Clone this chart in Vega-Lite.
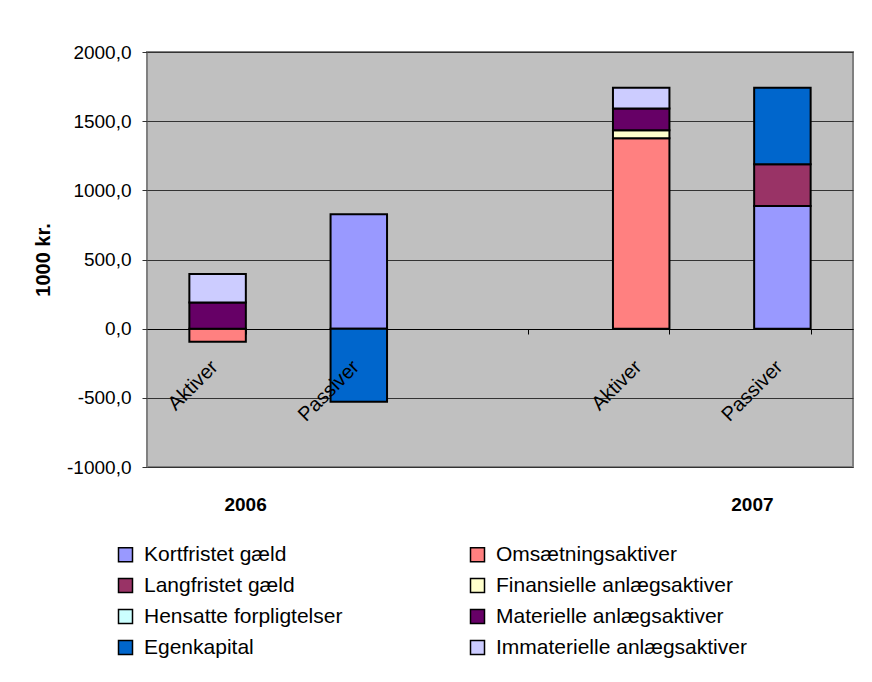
{
  "$schema": "https://vega.github.io/schema/vega-lite/v6.json",
  "width": 706,
  "height": 415,
  "autosize": {"type": "none"},
  "padding": {"left": 147, "top": 52, "right": 19, "bottom": 215},
  "background": "white",
  "config": {
    "locale": {"number": {"decimal": ",", "thousands": ".", "grouping": [3], "currency": ["", " kr."], "minus": "-"}},
    "font": "Liberation Sans",
    "view": {"fill": "#C0C0C0", "stroke": "#808080", "strokeWidth": 2}
  },
  "datasets": {
    "poster": [
      {"kategori": "2006 Aktiver", "post": "Omsætningsaktiver", "beløb": -95},
      {"kategori": "2006 Aktiver", "post": "Materielle anlægsaktiver", "beløb": 190},
      {"kategori": "2006 Aktiver", "post": "Immaterielle anlægsaktiver", "beløb": 205},
      {"kategori": "2006 Passiver", "post": "Kortfristet gæld", "beløb": 828},
      {"kategori": "2006 Passiver", "post": "Egenkapital", "beløb": -529},
      {"kategori": "2007 Aktiver", "post": "Omsætningsaktiver", "beløb": 1377},
      {"kategori": "2007 Aktiver", "post": "Finansielle anlægsaktiver", "beløb": 58},
      {"kategori": "2007 Aktiver", "post": "Materielle anlægsaktiver", "beløb": 157},
      {"kategori": "2007 Aktiver", "post": "Immaterielle anlægsaktiver", "beløb": 149},
      {"kategori": "2007 Passiver", "post": "Kortfristet gæld", "beløb": 886},
      {"kategori": "2007 Passiver", "post": "Langfristet gæld", "beløb": 303},
      {"kategori": "2007 Passiver", "post": "Egenkapital", "beløb": 552}
    ],
    "etiketter": [
      {"kategori": "2006 Aktiver", "tekst": "Aktiver"},
      {"kategori": "2006 Passiver", "tekst": "Passiver"},
      {"kategori": "2007 Aktiver", "tekst": "Aktiver"},
      {"kategori": "2007 Passiver", "tekst": "Passiver"}
    ],
    "aar": [
      {"kategori": "2006 Aktiver", "år": "2006"},
      {"kategori": "2007 Passiver", "år": "2007"}
    ]
  },
  "layer": [
    {
      "data": {"name": "poster"},
      "transform": [
        {"calculate": "indexof(['Kortfristet gæld', 'Langfristet gæld', 'Hensatte forpligtelser', 'Egenkapital', 'Omsætningsaktiver', 'Finansielle anlægsaktiver', 'Materielle anlægsaktiver', 'Immaterielle anlægsaktiver'], datum.post)", "as": "rækkefølge"}
      ],
      "mark": {"type": "bar", "stroke": "black", "strokeWidth": 2},
      "encoding": {
        "x": {
          "field": "kategori", "type": "nominal",
          "scale": {"domain": ["2006 Aktiver", "2006 Passiver", " ", "2007 Aktiver", "2007 Passiver"], "paddingInner": 0.6, "paddingOuter": 0.3},
          "axis": {"title": null, "labels": false, "offset": -138, "domainColor": "black", "domainWidth": 1, "tickColor": "black", "tickSize": 5, "tickBand": "extent", "grid": false}
        },
        "y": {
          "field": "beløb", "type": "quantitative", "stack": "zero",
          "scale": {"domain": [-1000, 2000], "nice": false},
          "axis": {"title": "1000 kr.", "values": [-1000, -500, 0, 500, 1000, 1500, 2000], "format": ".1f",
                   "labelFontSize": 19, "labelColor": "black", "labelPadding": 11,
                   "titleFontSize": 20, "titleFontWeight": "bold", "titleColor": "black", "titlePadding": 13,
                   "tickSize": 5, "tickColor": "#333", "domain": false, "gridColor": "#333", "gridWidth": 1}
        },
        "order": {"field": "rækkefølge", "type": "quantitative", "sort": "ascending"},
        "color": {
          "field": "post", "type": "nominal",
          "scale": {
            "domain": ["Kortfristet gæld", "Langfristet gæld", "Hensatte forpligtelser", "Egenkapital", "Omsætningsaktiver", "Finansielle anlægsaktiver", "Materielle anlægsaktiver", "Immaterielle anlægsaktiver"],
            "range": ["#9999FF", "#993366", "#CCFFFF", "#0066CC", "#FF8080", "#FFFFCC", "#660066", "#CCCCFF"]
          },
          "legend": {
            "title": null, "orient": "none", "legendX": -32, "legendY": 492,
            "columns": 2, "symbolType": "square", "symbolSize": 196,
            "symbolStrokeColor": "black", "symbolStrokeWidth": 1.5, "symbolOpacity": 1,
            "labelFontSize": 21, "labelColor": "black", "labelOffset": 8, "labelLimit": 400,
            "rowPadding": 9, "columnPadding": 124, "padding": 0
          }
        }
      }
    },
    {
      "data": {"name": "etiketter"},
      "mark": {"type": "text", "angle": -45, "align": "right", "baseline": "top", "dx": -27, "dy": 13, "fontSize": 20, "color": "black"},
      "encoding": {
        "x": {"field": "kategori", "type": "nominal"},
        "y": {"datum": 0, "type": "quantitative"},
        "text": {"field": "tekst"}
      }
    },
    {
      "data": {"name": "aar"},
      "transform": [{"filter": "datum['år'] == '2006'"}],
      "mark": {"type": "text", "align": "center", "baseline": "middle", "dx": 28, "dy": 38, "fontSize": 19, "fontWeight": "bold", "color": "black"},
      "encoding": {
        "x": {"field": "kategori", "type": "nominal"},
        "y": {"datum": -1000, "type": "quantitative"},
        "text": {"field": "år"}
      }
    },
    {
      "data": {"name": "aar"},
      "transform": [{"filter": "datum['år'] == '2007'"}],
      "mark": {"type": "text", "align": "center", "baseline": "middle", "dx": -30, "dy": 38, "fontSize": 19, "fontWeight": "bold", "color": "black"},
      "encoding": {
        "x": {"field": "kategori", "type": "nominal"},
        "y": {"datum": -1000, "type": "quantitative"},
        "text": {"field": "år"}
      }
    }
  ]
}
